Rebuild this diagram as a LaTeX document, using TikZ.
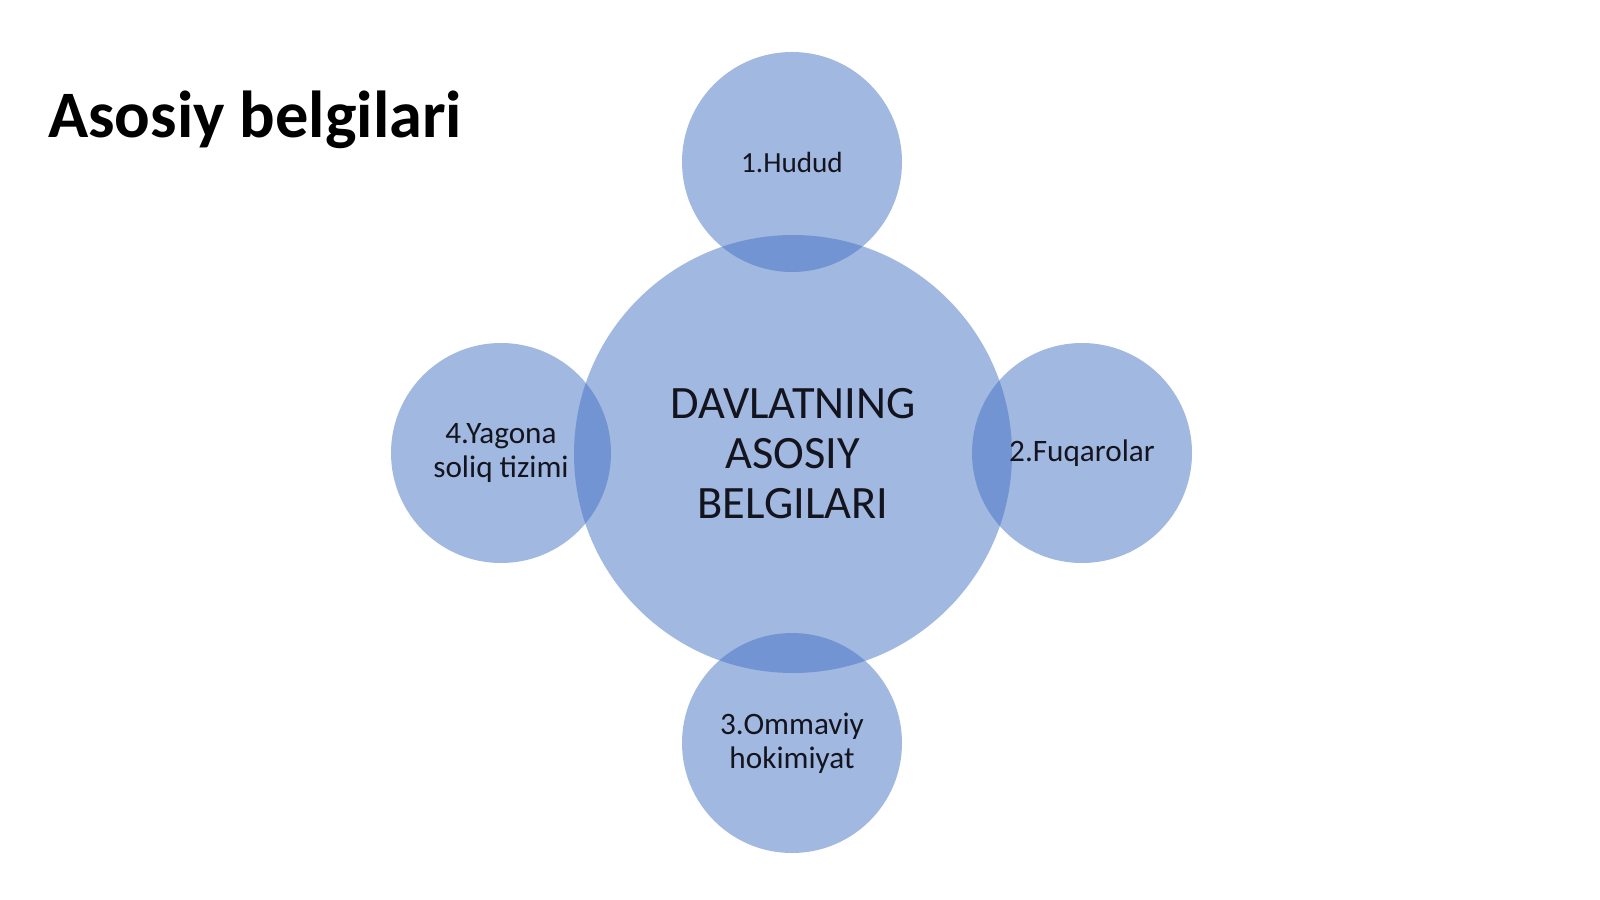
\documentclass[tikz,border=0pt]{standalone}
\usepackage{fontspec}
\setmainfont{Carlito}
\definecolor{circblue}{RGB}{68,114,196}
\definecolor{txt}{RGB}{20,20,30}
\begin{document}
\begin{tikzpicture}[x=0.5pt,y=-0.5pt,
  bubble/.style={circle,fill=circblue,fill opacity=0.5,text opacity=1,draw=none,inner sep=0pt,align=center,text=txt},
  small/.style={bubble,minimum size=110pt,font=\fontsize{15.6}{16.8}\selectfont},
  big/.style={bubble,minimum size=219pt,font=\fontsize{23.2}{25}\selectfont}]
\useasboundingbox (0,0) rectangle (1600,899);
\fill[white] (0,0) rectangle (1600,899);
\node[anchor=base west,font=\fontsize{33.2}{36}\bfseries\selectfont] (title) at (41,137) {Asosiy belgilari};
\node[big] (c) at (793,454) {DAVLATNING\\ASOSIY\\BELGILARI};
\node[small,font=\fontsize{14.6}{16.8}\selectfont] (t) at (792,162) {1.Hudud};
\node[small] (r) at (1082,453) {2.Fuqarolar};
\node[small] (b) at (792,743) {3.Ommaviy\\hokimiyat};
\node[small] (l) at (501,453) {4.Yagona\\soliq tizimi};
\end{tikzpicture}
\end{document}
